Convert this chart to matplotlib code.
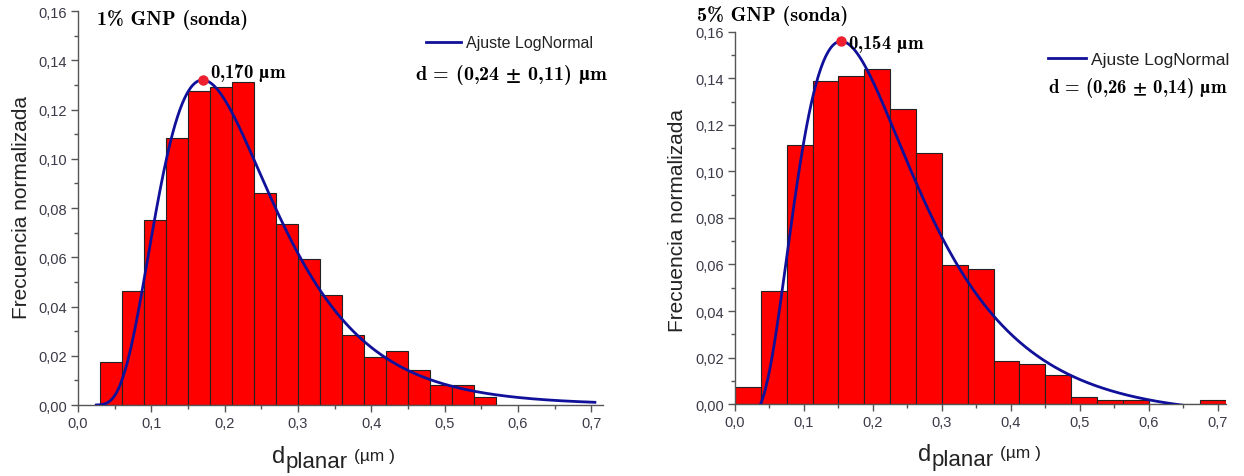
import numpy as np
import matplotlib
matplotlib.use('Agg')
import matplotlib.pyplot as plt
from matplotlib.ticker import MultipleLocator, FuncFormatter

plt.rcParams['font.family'] = ['Liberation Sans', 'DejaVu Sans']
plt.rcParams['mathtext.fontset'] = 'stix'

# histograma 1% GNP (bins de 0,03 um desde 0,03)
bin_start_1 = 0.03
bin_width_1 = 0.03
freq_1 = [0.0175, 0.0464, 0.0750, 0.1083, 0.1275, 0.1293, 0.1311, 0.0860, 0.0735,
          0.0591, 0.0448, 0.0285, 0.0193, 0.0221, 0.0144, 0.0081, 0.0081, 0.0033]

# histograma 5% GNP (bins de 0,0375 um desde 0)
bin_start_5 = 0.0
bin_width_5 = 0.0375
freq_5 = [0.0075, 0.0488, 0.1112, 0.1390, 0.1409, 0.1441, 0.1269, 0.1079, 0.0599,
          0.0580, 0.0186, 0.0170, 0.0123, 0.0029, 0.0016, 0.0016, 0.0, 0.0, 0.0016]

# ajuste lognormal: moda, altura del pico, ancho w, offset y0, rango dibujado
fit_1 = dict(mode=0.170, peak=0.132, w=0.46, y0=0.0, xmin=0.025, xmax=0.705)
fit_5 = dict(mode=0.154, peak=0.156, w=0.55, y0=-0.0058, xmin=0.035, xmax=0.72)

titles = ['1% GNP (sonda)', '5% GNP (sonda)']
# cmb10 no tiene µ ni ±, van en mathtext
peak_labels = [r'0,170 $\mathbf{µ}$m', r'0,154 $\mathbf{µ}$m']
size_labels = [r'd = (0,24 $\mathbf{\pm}$ 0,11) $\mathbf{µ}$m',
               r'd = (0,26 $\mathbf{\pm}$ 0,14) $\mathbf{µ}$m']

navy = '#10109a'
serif_bold = 'cmb10'


def lognormal(x, mode, peak, w, y0):
    # forma LogNormal de Origin escrita en funcion de la moda y el maximo
    return y0 + (peak - y0) * np.exp(-np.log(x / mode) ** 2 / (2 * w ** 2))


def comma(fmt):
    return FuncFormatter(lambda v, p: (fmt % v).replace('.', ','))


def dplanar_label(ax, fx, fy):
    # d_planar (µm) armado en tres trozos con tamaños distintos
    t1 = ax.text(fx, fy, 'd', transform=ax.transAxes, ha='left', va='baseline',
                 fontsize=17, color='#222222')
    t2 = ax.annotate('planar', xy=(1, 0), xycoords=t1, xytext=(0.5, 0),
                     textcoords='offset points', ha='left', va='baseline',
                     fontsize=16, color='#222222')
    ax.annotate('(µm )', xy=(1, 0), xycoords=t2, xytext=(4.5, 9),
                textcoords='offset points', ha='left', va='baseline',
                fontsize=12.5, color='#222222')


fig = plt.figure(figsize=(12.44, 4.77), dpi=100)
ax1 = fig.add_axes([0.0627, 0.1488, 0.422, 0.826])
ax2 = fig.add_axes([0.5908, 0.1509, 0.395, 0.780])

panels = [
    (ax1, bin_start_1, bin_width_1, freq_1, fit_1, 0.716),
    (ax2, bin_start_5, bin_width_5, freq_5, fit_5, 0.7125),
]

for i, (ax, b0, bw, freq, fit, xmax) in enumerate(panels):
    left = b0 + bw * np.arange(len(freq))
    ax.bar(left, freq, width=bw, align='edge', color='#ff0000',
           edgecolor='#222222', linewidth=0.8, zorder=2)

    xs = np.linspace(fit['xmin'], fit['xmax'], 400)
    ys = lognormal(xs, fit['mode'], fit['peak'], fit['w'], fit['y0'])
    ax.plot(xs, ys, color=navy, lw=2.0, zorder=3, label='Ajuste LogNormal')
    ax.plot(fit['mode'], fit['peak'], 'o', color='#ee2030', ms=6.5, zorder=4, clip_on=False)

    ax.set_xlim(0, xmax)
    ax.set_ylim(0, 0.16)
    ax.xaxis.set_major_locator(MultipleLocator(0.1))
    ax.xaxis.set_minor_locator(MultipleLocator(0.05))
    ax.yaxis.set_major_locator(MultipleLocator(0.02))
    ax.yaxis.set_minor_locator(MultipleLocator(0.01))
    ax.xaxis.set_major_formatter(comma('%.1f'))
    ax.yaxis.set_major_formatter(comma('%.2f'))
    ax.tick_params(which='major', direction='out', length=5, width=1, color='#555555',
                   labelsize=10.5, labelcolor='#3a3a48', pad=3)
    ax.tick_params(which='minor', direction='out', length=3, width=1, color='#555555')
    for s in ['top', 'right']:
        ax.spines[s].set_visible(False)
    for s in ['left', 'bottom']:
        ax.spines[s].set_color('#555555')
        ax.spines[s].set_linewidth(1.0)

    ax.set_ylabel('Frecuencia normalizada', fontsize=15, color='#222222')

    ax.annotate(peak_labels[i], (fit['mode'], fit['peak']),
                xytext=(5, 6) if i == 0 else (5, -1), textcoords='offset points',
                ha='left', va='center', fontsize=13.5, family=serif_bold)

ax1.yaxis.set_label_coords(-0.089, 0.505)
ax2.yaxis.set_label_coords(-0.098, 0.497)
dplanar_label(ax1, 0.3695, -0.145)
dplanar_label(ax2, 0.372, -0.15)

ax1.text(0.036, 0.98, titles[0], transform=ax1.transAxes,
         ha='left', va='center', fontsize=14.5, family=serif_bold)
ax2.text(-0.077, 1.045, titles[1], transform=ax2.transAxes,
         ha='left', va='center', fontsize=14.5, family=serif_bold)

for ax, lx, ly, tx, ty, lab, lfs, tfs in [
        (ax1, 0.663, 0.919, 0.642, 0.84, size_labels[0], 11.5, 14.5),
        (ax2, 0.637, 0.927, 0.637, 0.852, size_labels[1], 12.5, 13.5)]:
    leg = ax.legend(loc='center left', bbox_to_anchor=(lx, ly), frameon=False,
                    fontsize=lfs, handlelength=2.2, handletextpad=0.3,
                    borderpad=0, borderaxespad=0)
    for t in leg.get_texts():
        t.set_color('#222222')
    ax.text(tx, ty, lab, transform=ax.transAxes, ha='left', va='center',
            fontsize=tfs, family=serif_bold)

fig.savefig('out.png', dpi=100)
